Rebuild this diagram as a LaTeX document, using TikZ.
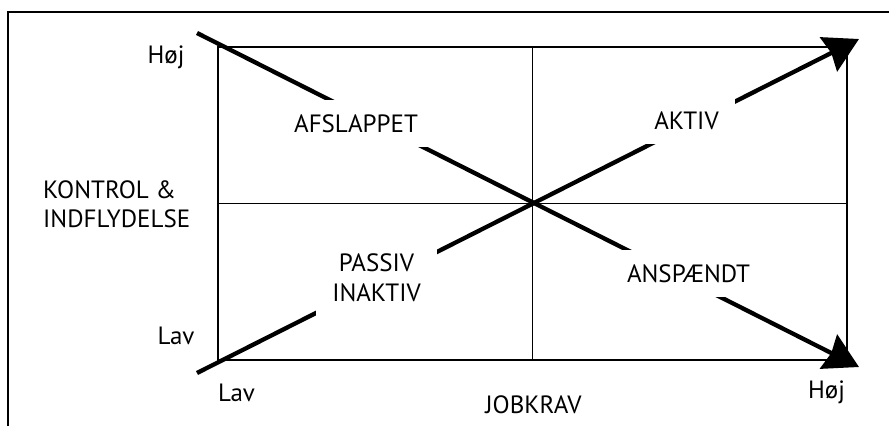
\documentclass[tikz,border=0pt]{standalone}
\usepackage{fontspec}
\setmainfont{PT Sans}
\usetikzlibrary{arrows.meta}
\begin{document}
\begin{tikzpicture}[x=1pt,y=-1pt,
  txt/.style={font=\fontsize{25}{30}\selectfont, inner sep=0pt},
  quadlabel/.style={txt, fill=white, inner xsep=16pt, inner ysep=14.5pt, align=center},
  boxline/.style={line width=1.8pt},
  diag/.style={line width=4.3pt, -{Stealth[length=34pt,width=38pt,inset=3pt]}}]
\useasboundingbox (0,0) rectangle (889,426);
% outer frame (only the left and top edges fall inside the page)
\draw[line width=1.3pt] (8,426) -- (8,12) -- (889,12);

% quadrant grid
\coordinate (tl) at (218,47);
\coordinate (br) at (847,360);
\coordinate (mid) at (532.5,203.5);
\draw[boxline] (tl) rectangle (br);
\draw[boxline] (tl -| mid) -- (br -| mid);
\draw[boxline] (tl |- mid) -- (br |- mid);

% diagonals
\coordinate (d1s) at (197,33);
\coordinate (d1e) at (859,367);
\coordinate (d2s) at (197,373);
\coordinate (d2e) at (859,39);
\draw[diag] (d1s) -- (d1e);
\draw[diag] (d2s) -- (d2e);

% quadrant labels (white boxes interrupt the diagonals)
\node[quadlabel, anchor=base] (afsl) at (356,132) {AFSLAPPET};
\node[quadlabel, anchor=base] (aktiv) at (686.5,129) {AKTIV};
\node[quadlabel, anchor=base] (ansp) at (688.5,282) {ANSPÆNDT};
\node[quadlabel] (passiv) at (376.5,277.5) {PASSIV\\INAKTIV};

% axis labels
\node[txt, anchor=base] (yhigh) at (166,63) {Høj};
\node[txt, anchor=base] (ylow) at (176,344) {Lav};
\node[txt, anchor=base west] (ytitle1) at (43,198) {KONTROL \&};
\node[txt, anchor=base west] (ytitle2) at (43,227) {INDFLYDELSE};
\node[txt, anchor=base] (xlow) at (236.5,401) {Lav};
\node[txt, anchor=base] (xtitle) at (533.5,413) {JOBKRAV};
\node[txt, anchor=base] (xhigh) at (826.5,398) {Høj};
\end{tikzpicture}
\end{document}
